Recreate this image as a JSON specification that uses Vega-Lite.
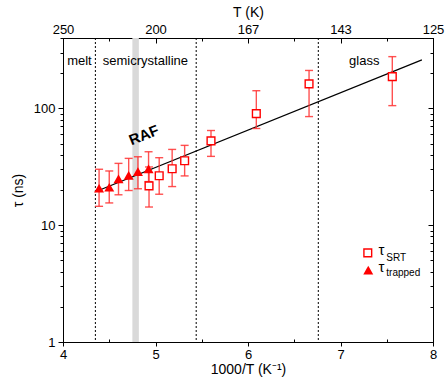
{
  "$schema": "https://vega.github.io/schema/vega-lite/v6.json",
  "autosize": {"type": "none"},
  "width": 370,
  "height": 304,
  "padding": {"left": 63, "top": 38, "right": 12, "bottom": 45},
  "background": "white",
  "config": {
    "view": {"stroke": "black", "strokeWidth": 1},
    "font": "Liberation Sans",
    "axis": {"grid": false, "domainColor": "black", "tickColor": "black", "labelColor": "black", "titleColor": "black", "labelFont": "Liberation Sans", "titleFont": "Liberation Sans", "labelFontSize": 13, "titleFontSize": 14, "titleFontWeight": "normal"}
  },
  "datasets": {
    "pts": [
      {"series": "trapped", "x": 4.39, "tau": 20.7, "lo": 14.5, "hi": 30.1},
      {"series": "trapped", "x": 4.50, "tau": 21.1, "lo": 15.5, "hi": 29.1},
      {"series": "trapped", "x": 4.60, "tau": 24.9, "lo": 18.2, "hi": 33.8},
      {"series": "trapped", "x": 4.71, "tau": 26.7, "lo": 19.8, "hi": 37.3},
      {"series": "trapped", "x": 4.81, "tau": 28.7, "lo": 20.5, "hi": 38.5},
      {"series": "trapped", "x": 4.925, "tau": 30.3, "lo": 23.6, "hi": 42.5},
      {"series": "SRT", "x": 4.93, "tau": 21.7, "lo": 14.3, "hi": 31.5},
      {"series": "SRT", "x": 5.04, "tau": 26.5, "lo": 18.4, "hi": 37.8},
      {"series": "SRT", "x": 5.18, "tau": 30.4, "lo": 21.4, "hi": 44.5},
      {"series": "SRT", "x": 5.315, "tau": 35.6, "lo": 26.4, "hi": 48.2},
      {"series": "SRT", "x": 5.60, "tau": 52.7, "lo": 38.8, "hi": 64.6},
      {"series": "SRT", "x": 6.09, "tau": 90.1, "lo": 67.2, "hi": 141.5},
      {"series": "SRT", "x": 6.66, "tau": 162, "lo": 85, "hi": 211},
      {"series": "SRT", "x": 7.56, "tau": 187, "lo": 105.5, "hi": 277}
    ],
    "fit": [
      {"x": 4.35, "tau": 19.3},
      {"x": 7.88, "tau": 260}
    ],
    "vlines": [
      {"x": 4.35}, {"x": 5.44}, {"x": 6.76}
    ],
    "band": [
      {"x1": 4.75, "x2": 4.82}
    ],
    "labels": [
      {"x": 4.045, "tau": 256, "text": "melt"},
      {"x": 4.43, "tau": 256, "text": "semicrystalline"},
      {"x": 7.093, "tau": 253, "text": "glass"}
    ],
    "raf": [
      {"x": 4.875, "tau": 58.9, "text": "RAF"}
    ],
    "legsym": [
      {"series": "SRT", "x": 7.295, "tau": 5.8},
      {"series": "trapped", "x": 7.30, "tau": 4.12}
    ],
    "legtau": [
      {"x": 7.41, "tau": 6.07, "text": "τ"},
      {"x": 7.41, "tau": 4.35, "text": "τ"}
    ],
    "legsub": [
      {"x": 7.495, "tau": 5.19, "text": "SRT"},
      {"x": 7.495, "tau": 3.87, "text": "trapped"}
    ]
  },
  "layer": [
    {
      "data": {"name": "band"},
      "mark": {"type": "rect", "color": "#d9d9d9"},
      "encoding": {
        "x": {"field": "x1", "type": "quantitative", "scale": {"domain": [4, 8], "nice": false, "zero": false}, "axis": null},
        "x2": {"field": "x2"}
      }
    },
    {
      "data": {"name": "vlines"},
      "mark": {"type": "rule", "color": "black", "strokeWidth": 1, "strokeDash": [2, 2]},
      "encoding": {
        "x": {"field": "x", "type": "quantitative", "scale": {"domain": [4, 8], "nice": false, "zero": false}, "axis": null}
      }
    },
    {
      "data": {"name": "fit"},
      "mark": {"type": "line", "color": "black", "strokeWidth": 1.2},
      "encoding": {
        "x": {"field": "x", "type": "quantitative", "scale": {"domain": [4, 8], "nice": false, "zero": false},
          "axis": {"orient": "top", "title": "T (K)", "values": [4, 4.5, 5, 5.5, 6, 6.5, 7, 7.5, 8],
            "labelExpr": "datum.value % 1 == 0 ? format(1000 / datum.value, '.0f') : ''",
            "tickSize": {"condition": {"test": "datum.value % 1 == 0", "value": -5}, "value": -3},
            "labelPadding": 7, "titlePadding": 4, "labelFlush": false}},
        "y": {"field": "tau", "type": "quantitative", "scale": {"type": "log", "domain": [1, 400], "nice": false},
          "axis": {"orient": "right", "title": null, "labels": false,
            "values": [1, 2, 3, 4, 5, 6, 7, 8, 9, 10, 20, 30, 40, 50, 60, 70, 80, 90, 100, 200, 300, 400],
            "tickSize": {"condition": {"test": "datum.value == 1 || datum.value == 10 || datum.value == 100", "value": -5}, "value": -3}}}
      }
    },
    {
      "data": {"name": "pts"},
      "mark": {"type": "rule", "color": "#ff3333", "strokeWidth": 1.4, "opacity": 0.85},
      "encoding": {
        "x": {"field": "x", "type": "quantitative", "scale": {"domain": [4, 8], "nice": false, "zero": false}, "axis": null},
        "y": {"field": "lo", "type": "quantitative", "scale": {"type": "log", "domain": [1, 400], "nice": false}, "axis": null},
        "y2": {"field": "hi"}
      }
    },
    {
      "data": {"name": "pts"},
      "mark": {"type": "tick", "orient": "horizontal", "color": "#ff3333", "thickness": 1.4, "size": 8, "opacity": 0.85},
      "encoding": {
        "x": {"field": "x", "type": "quantitative", "scale": {"domain": [4, 8], "nice": false, "zero": false}, "axis": null},
        "y": {"field": "lo", "type": "quantitative", "scale": {"type": "log", "domain": [1, 400], "nice": false}, "axis": null}
      }
    },
    {
      "data": {"name": "pts"},
      "mark": {"type": "tick", "orient": "horizontal", "color": "#ff3333", "thickness": 1.4, "size": 8, "opacity": 0.85},
      "encoding": {
        "x": {"field": "x", "type": "quantitative", "scale": {"domain": [4, 8], "nice": false, "zero": false}, "axis": null},
        "y": {"field": "hi", "type": "quantitative", "scale": {"type": "log", "domain": [1, 400], "nice": false}, "axis": null}
      }
    },
    {
      "data": {"name": "pts"},
      "transform": [{"filter": "datum.series == 'SRT'"}],
      "mark": {"type": "point", "shape": "square", "filled": true, "fill": "white", "stroke": "#ff0000", "strokeWidth": 1.4, "size": 60, "opacity": 1},
      "encoding": {
        "x": {"field": "x", "type": "quantitative", "scale": {"domain": [4, 8], "nice": false, "zero": false}, "axis": null},
        "y": {"field": "tau", "type": "quantitative", "scale": {"type": "log", "domain": [1, 400], "nice": false}, "axis": null}
      }
    },
    {
      "data": {"name": "pts"},
      "transform": [{"filter": "datum.series == 'trapped'"}],
      "mark": {"type": "point", "shape": "triangle-up", "filled": true, "color": "#ff0000", "size": 100, "opacity": 1},
      "encoding": {
        "x": {"field": "x", "type": "quantitative", "scale": {"domain": [4, 8], "nice": false, "zero": false},
          "axis": {"orient": "bottom", "title": "1000/T (K⁻¹)", "values": [4, 4.5, 5, 5.5, 6, 6.5, 7, 7.5, 8],
            "labelExpr": "datum.value % 1 == 0 ? format(datum.value, 'd') : ''",
            "tickSize": {"condition": {"test": "datum.value % 1 == 0", "value": 4}, "value": -3},
            "labelPadding": 2, "titlePadding": 1, "labelFlush": false}},
        "y": {"field": "tau", "type": "quantitative", "scale": {"type": "log", "domain": [1, 400], "nice": false},
          "axis": {"orient": "left", "title": "τ (ns)",
            "values": [1, 2, 3, 4, 5, 6, 7, 8, 9, 10, 20, 30, 40, 50, 60, 70, 80, 90, 100, 200, 300, 400],
            "labelExpr": "(datum.value == 1 || datum.value == 10 || datum.value == 100) ? datum.label : ''",
            "tickSize": {"condition": {"test": "datum.value == 1 || datum.value == 10 || datum.value == 100", "value": 5}, "value": 3},
            "labelPadding": 3, "titlePadding": 8, "labelFlush": false}}
      }
    },
    {
      "data": {"name": "labels"},
      "mark": {"type": "text", "align": "left", "baseline": "middle", "fontSize": 13, "color": "black"},
      "encoding": {
        "x": {"field": "x", "type": "quantitative", "scale": {"domain": [4, 8], "nice": false, "zero": false}, "axis": null},
        "y": {"field": "tau", "type": "quantitative", "scale": {"type": "log", "domain": [1, 400], "nice": false}, "axis": null},
        "text": {"field": "text"}
      }
    },
    {
      "data": {"name": "raf"},
      "mark": {"type": "text", "align": "center", "baseline": "middle", "fontSize": 15, "fontWeight": "bold", "angle": -22, "color": "black"},
      "encoding": {
        "x": {"field": "x", "type": "quantitative", "scale": {"domain": [4, 8], "nice": false, "zero": false}, "axis": null},
        "y": {"field": "tau", "type": "quantitative", "scale": {"type": "log", "domain": [1, 400], "nice": false}, "axis": null},
        "text": {"field": "text"}
      }
    },
    {
      "data": {"name": "legsym"},
      "transform": [{"filter": "datum.series == 'SRT'"}],
      "mark": {"type": "point", "shape": "square", "filled": true, "fill": "white", "stroke": "#ff0000", "strokeWidth": 1.4, "size": 60, "opacity": 1},
      "encoding": {
        "x": {"field": "x", "type": "quantitative", "scale": {"domain": [4, 8], "nice": false, "zero": false}, "axis": null},
        "y": {"field": "tau", "type": "quantitative", "scale": {"type": "log", "domain": [1, 400], "nice": false}, "axis": null}
      }
    },
    {
      "data": {"name": "legsym"},
      "transform": [{"filter": "datum.series == 'trapped'"}],
      "mark": {"type": "point", "shape": "triangle-up", "filled": true, "color": "#ff0000", "size": 100, "opacity": 1},
      "encoding": {
        "x": {"field": "x", "type": "quantitative", "scale": {"domain": [4, 8], "nice": false, "zero": false}, "axis": null},
        "y": {"field": "tau", "type": "quantitative", "scale": {"type": "log", "domain": [1, 400], "nice": false}, "axis": null}
      }
    },
    {
      "data": {"name": "legtau"},
      "mark": {"type": "text", "align": "left", "baseline": "middle", "fontSize": 15, "color": "black"},
      "encoding": {
        "x": {"field": "x", "type": "quantitative", "scale": {"domain": [4, 8], "nice": false, "zero": false}, "axis": null},
        "y": {"field": "tau", "type": "quantitative", "scale": {"type": "log", "domain": [1, 400], "nice": false}, "axis": null},
        "text": {"field": "text"}
      }
    },
    {
      "data": {"name": "legsub"},
      "mark": {"type": "text", "align": "left", "baseline": "middle", "fontSize": 10, "color": "black"},
      "encoding": {
        "x": {"field": "x", "type": "quantitative", "scale": {"domain": [4, 8], "nice": false, "zero": false}, "axis": null},
        "y": {"field": "tau", "type": "quantitative", "scale": {"type": "log", "domain": [1, 400], "nice": false}, "axis": null},
        "text": {"field": "text"}
      }
    }
  ],
  "resolve": {"axis": {"x": "independent", "y": "independent"}}
}
